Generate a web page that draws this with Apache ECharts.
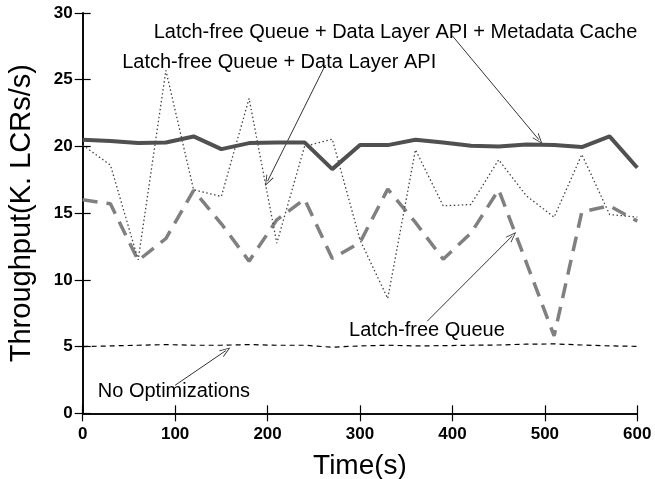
<!DOCTYPE html>
<html>
<head>
<meta charset="utf-8">
<script src="https://cdn.jsdelivr.net/npm/echarts@6/dist/echarts.min.js"></script>
<style>
html,body{margin:0;padding:0;background:#fff;}
#chart{width:655px;height:479px;}
</style>
</head>
<body>
<div id="chart"></div>
<script>
// ---- data ----
var times = [0,30,60,90,120,150,180,210,240,270,300,330,360,390,420,450,480,510,540,570,600];
var metadataCache = [20.5,20.4,20.25,20.3,20.75,19.8,20.25,20.3,20.3,18.3,20.1,20.1,20.5,20.3,20.05,20.0,20.15,20.1,19.95,20.75,18.4];
var dataLayerApi  = [20.1,18.6,11.5,25.7,16.75,16.25,23.6,12.75,20.0,20.55,13.0,8.6,19.75,15.55,15.65,19.0,16.3,14.7,19.4,14.9,14.7];
var latchFreeQueue = [16.0,15.7,11.45,13.1,16.7,14.2,11.4,14.5,16.05,11.6,12.8,16.8,14.3,11.55,13.5,16.75,11.3,5.8,15.1,15.55,14.4];
var noOptimizations = [5.0,5.05,5.1,5.15,5.1,5.1,5.15,5.1,5.1,4.95,5.05,5.1,5.05,5.07,5.1,5.12,5.18,5.2,5.12,5.05,5.02];

var xTicks = {min:0, max:600, interval:100};
var yTicks = {min:0, max:30, interval:5};

// annotation texts and their anchor points (data space)
var annotationTexts = ['Latch-free Queue + Data Layer API + Metadata Cache','Latch-free Queue + Data Layer API','Latch-free Queue','No Optimizations'];
var annotationAnchors = [[338.4,28.55],[212.6,26.3],[372.4,6.2],[98.7,1.6]];
var arrowStarts = [[399.8,28.3],[262.5,26.1],[372.7,6.9],[100,2.1]];
var arrowEnds   = [[493.6,20.5],[200,17.4],[464.8,13.3],[154.9,4.7]];

function pairs(xs, ys){ return xs.map(function(x,i){return [x, ys[i]];}); }

var FONT = '"Liberation Sans", Arial, Helvetica, sans-serif';
var arrowPath = 'path://M5,0 L10,12 L8.8,12 L5,2.6 L1.2,12 L0,12 Z';

var chart = echarts.init(document.getElementById('chart'), null, {renderer:'canvas'});

var baseAxisLine = {show:true, lineStyle:{color:'#000', width:1.6}};
var baseTick = {show:true, inside:true, length:8, lineStyle:{color:'#000', width:1.2}};

var option = {
  animation:false,
  backgroundColor:'#fff',
  grid:{left:82.7, right:17.7, top:13, bottom:65.7, containLabel:false, outerBoundsMode:'none'},
  xAxis:[{
    type:'value', min:xTicks.min, max:xTicks.max, interval:xTicks.interval,
    position:'bottom',
    axisLine:baseAxisLine, axisTick:baseTick, splitLine:{show:false},
    axisLabel:{show:true, margin:13, color:'#000', fontSize:17, fontWeight:'bold', fontFamily:FONT},
    name:'Time(s)', nameLocation:'middle', nameGap:39,
    nameTextStyle:{color:'#000', fontSize:28, fontFamily:FONT}
  },{
    type:'value', min:xTicks.min, max:xTicks.max, interval:xTicks.interval,
    position:'top',
    axisLine:baseAxisLine, axisTick:baseTick, splitLine:{show:false},
    axisLabel:{show:false}
  }],
  yAxis:[{
    type:'value', min:yTicks.min, max:yTicks.max, interval:yTicks.interval,
    position:'left',
    axisLine:baseAxisLine, axisTick:baseTick, splitLine:{show:false},
    axisLabel:{show:true, margin:10, color:'#000', fontSize:17, fontWeight:'bold', fontFamily:FONT},
    name:'Throughput(K. LCRs/s)', nameLocation:'middle', nameGap:46,
    nameTextStyle:{color:'#000', fontSize:29, fontFamily:FONT}
  },{
    type:'value', min:yTicks.min, max:yTicks.max, interval:yTicks.interval,
    position:'right',
    axisLine:baseAxisLine, axisTick:baseTick, splitLine:{show:false},
    axisLabel:{show:false}
  }],
  series:[
    {
      name:'No Optimizations', type:'line', xAxisIndex:0, yAxisIndex:0,
      data:pairs(times, noOptimizations), showSymbol:false, symbol:'none',
      lineStyle:{color:'#000', width:1.2, type:[5,4]}, z:2,
      markPoint:{
        silent:true, symbol:'circle', symbolSize:0, animation:false,
        label:{show:true, position:'inside', color:'#000', fontSize:20, fontFamily:FONT,
               formatter:function(p){return p.name;}},
        data:annotationTexts.map(function(t,i){return {name:t, coord:annotationAnchors[i]};})
      },
      markLine:{
        silent:true, animation:false, symbol:['none', arrowPath], symbolSize:[8,11],
        label:{show:false},
        lineStyle:{color:'#333', width:1, type:'solid'},
        data:arrowStarts.map(function(s,i){return [{coord:s},{coord:arrowEnds[i]}];})
      }
    },
    {
      name:'Latch-free Queue', type:'line', xAxisIndex:0, yAxisIndex:0,
      data:pairs(times, latchFreeQueue), showSymbol:false, symbol:'none',
      lineStyle:{color:'#808080', width:3.5, type:[15,9], cap:'butt'}, z:3
    },
    {
      name:'Latch-free Queue + Data Layer API', type:'line', xAxisIndex:0, yAxisIndex:0,
      data:pairs(times, dataLayerApi), showSymbol:false, symbol:'none',
      lineStyle:{color:'#444', width:1.3, type:[1.5,2.5]}, z:4
    },
    {
      name:'Latch-free Queue + Data Layer API + Metadata Cache', type:'line', xAxisIndex:0, yAxisIndex:0,
      data:pairs(times, metadataCache), showSymbol:false, symbol:'none',
      lineStyle:{color:'#505050', width:4}, z:5
    }
  ]
};
chart.setOption(option);
</script>
</body>
</html>
